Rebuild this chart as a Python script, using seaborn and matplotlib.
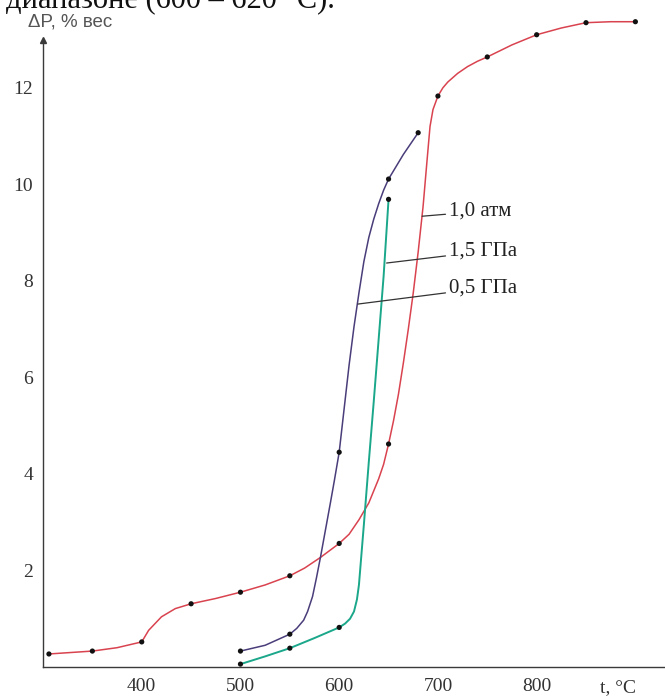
import numpy as np
import pandas as pd
import matplotlib
matplotlib.use("Agg")
import matplotlib.pyplot as plt
import seaborn as sns

# ==========================================
# Data
# ==========================================

# measured points (black dots)
t_atm = [306, 350, 400, 450, 500, 550, 600, 650, 700, 750, 800, 850, 900]
dp_atm = [0.27, 0.33, 0.52, 1.31, 1.55, 1.89, 2.56, 4.62, 11.83, 12.64, 13.10, 13.35, 13.37]

t_05 = [500, 550, 600, 650, 680]
dp_05 = [0.33, 0.68, 4.45, 10.11, 11.07]

t_15 = [500, 550, 600, 650]
dp_15 = [0.06, 0.39, 0.82, 9.69]

# drawn curves
t_atm_line = [306, 350, 375, 400, 407, 420, 434, 450, 475, 500, 525, 550, 565, 581, 600,
              610, 620, 630, 640, 645, 650, 655, 660, 665, 670, 675, 680, 685, 689, 692,
              695, 700, 705, 710, 720, 730, 740, 750, 775, 800, 825, 850, 875, 900]
dp_atm_line = [0.27, 0.33, 0.40, 0.52, 0.76, 1.04, 1.21, 1.31, 1.42, 1.55, 1.70, 1.89,
               2.05, 2.27, 2.56, 2.75, 3.05, 3.40, 3.90, 4.20, 4.62, 5.10, 5.65, 6.30,
               7.00, 7.75, 8.60, 9.55, 10.50, 11.20, 11.55, 11.83, 12.00, 12.12, 12.30,
               12.44, 12.55, 12.64, 12.89, 13.10, 13.24, 13.35, 13.37, 13.37]

t_05_line = [500, 525, 550, 557, 564, 568, 573, 577, 581, 586, 591, 595, 600, 605, 610,
             615, 620, 625, 630, 635, 640, 645, 650, 665, 680]
dp_05_line = [0.33, 0.45, 0.68, 0.80, 0.97, 1.15, 1.46, 1.85, 2.27, 2.83, 3.39, 3.85,
              4.45, 5.35, 6.25, 7.05, 7.75, 8.40, 8.90, 9.28, 9.60, 9.88, 10.11, 10.62,
              11.07]

t_15_line = [500, 525, 550, 575, 600, 606, 611, 615, 618, 620, 622, 625, 630, 635, 640,
             645, 650]
dp_15_line = [0.06, 0.22, 0.39, 0.60, 0.82, 0.90, 1.00, 1.15, 1.40, 1.70, 2.20, 2.95,
              4.25, 5.50, 6.80, 8.10, 9.69]

# curve labels: (text, point on curve, text position)
labels = ["1,0 атм", "1,5 ГПа", "0,5 ГПа"]
label_from = [(684, 9.34), (648, 8.37), (619, 7.52)]
label_at = [(711, 9.44), (711, 8.61), (711, 7.85)]

x_ticks = list(range(350, 901, 50))
x_ticklabels = ["", "400", "", "500", "", "600", "", "700", "", "800", "", ""]
y_ticks = list(range(1, 13))
y_ticklabels = ["", "2", "", "4", "", "6", "", "8", "", "10", "", "12"]

red = "#d9434f"
purple = "#4a3d7a"
green = "#1aa78a"
axis_col = "#3a3a3a"

# ==========================================
# Plot
# ==========================================

sns.set_style("white")
plt.rcParams["font.family"] = ["Liberation Serif", "DejaVu Serif"]

fig = plt.figure(figsize=(6.65, 6.99), dpi=100)
ax = fig.add_axes([43/665, 32/699, 622/665, 667/699])

sns.lineplot(x=t_atm_line, y=dp_atm_line, sort=False, estimator=None, color=red, lw=1.1, ax=ax)
sns.lineplot(x=t_05_line, y=dp_05_line, sort=False, estimator=None, color=purple, lw=1.1, ax=ax)
sns.lineplot(x=t_15_line, y=dp_15_line, sort=False, estimator=None, color=green, lw=1.4, ax=ax)

for tt, dd in [(t_atm, dp_atm), (t_05, dp_05), (t_15, dp_15)]:
    sns.scatterplot(x=tt, y=dd, color="#111111", s=14, edgecolor="none", ax=ax, zorder=5)

for txt, p0, p1 in zip(labels, label_from, label_at):
    ax.annotate(txt, xy=p0, xytext=p1, ha="left", va="center", fontsize=15, color="#222222",
                arrowprops=dict(arrowstyle="-", color="#333333", lw=0.9, shrinkA=0, shrinkB=0))

ax.set_xlim(300, 930)
ax.set_ylim(0, 13.82)

ax.spines["top"].set_visible(False)
ax.spines["right"].set_visible(False)
for s in ["left", "bottom"]:
    ax.spines[s].set_color(axis_col)
    ax.spines[s].set_linewidth(1.0)
ax.spines["left"].set_bounds(0, 12.95)

# axis arrows
ax.plot(0, 13.0, marker="^", color=axis_col, ms=5, clip_on=False, transform=ax.get_yaxis_transform())
ax.plot(0.995, 0, marker=">", color=axis_col, ms=5, clip_on=False, transform=ax.get_xaxis_transform())

ax.set_xticks(x_ticks)
ax.set_xticklabels(x_ticklabels)
ax.set_yticks(y_ticks)
ax.set_yticklabels(y_ticklabels)
ax.tick_params(direction="out", length=5, width=1, colors=axis_col, labelsize=14,
               labelcolor="#333333", pad=2)
ax.tick_params(axis="x", length=5, pad=3)

ax.set_xlabel("")
ax.set_ylabel("")

fig.text(618/665, 1 - 688/699, "t, °C", ha="center", va="center", fontsize=14, color="#333333")
fig.text(28/665, 1 - 22/699, "ΔP, % вес", ha="left", va="center", fontsize=13.5,
         color="#555555", family=["Liberation Sans", "DejaVu Sans"])

# cut-off line of the page text above the figure
fig.text(335/665, 1 - 7/699, "диапазоне (600 – 620 °С).", ha="right", va="baseline",
         fontsize=22, color="#111111")

fig.savefig("out.png", dpi=100)
